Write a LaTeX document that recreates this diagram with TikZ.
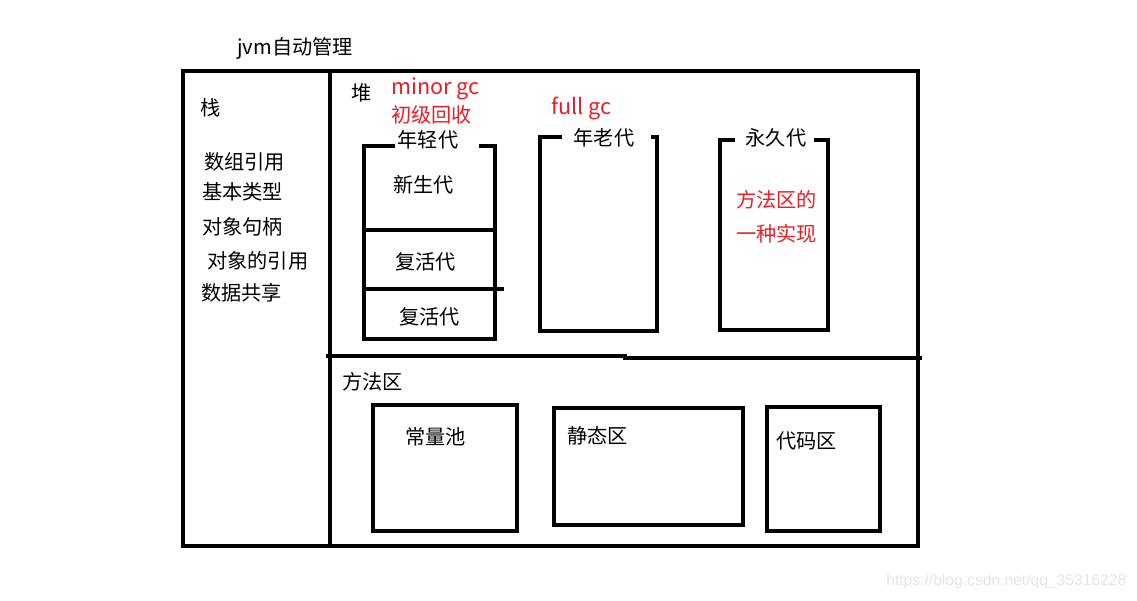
\documentclass[tikz,border=0pt]{standalone}
\usepackage{fontspec}
\usepackage{tikz}
\newfontfamily\cjk{Noto Sans CJK SC}
\newfontfamily\wmfont{Liberation Sans}
\definecolor{paintred}{RGB}{237,28,36}
\definecolor{wmgray}{RGB}{228,228,228}

\begin{document}
\begin{tikzpicture}[x=0.02cm, y=-0.02cm,
  wall/.style={line width=2.3pt, line cap=rect},
  lbl/.style={anchor=west, inner sep=0pt, font=\cjk\fontsize{11.5}{14}\selectfont},
  redlbl/.style={lbl, text=paintred},
  gclbl/.style={redlbl, font=\cjk\fontsize{12.3}{14}\selectfont},
  gen/.style={inner sep=0pt, font=\cjk\fontsize{11.5}{14}\selectfont}
]
\useasboundingbox (0,0) rectangle (1137,600);

\draw[wall] (183,71) rectangle (918,546);
\draw[wall] (330,71) -- (330,546);
\draw[wall] (328,356) -- (625,356);
\draw[wall] (625,358) -- (920,358);

\draw[wall] (393,146) -- (364,146) -- (364,339) -- (495,339) -- (495,146) -- (481,146);
\draw[wall] (364,230) -- (495,230);
\draw[wall] (364,289) -- (502,289);
\draw[wall] (560,137) -- (540,137) -- (540,331) -- (657,331) -- (657,137) -- (653,137);
\draw[wall] (733,140) -- (720,140) -- (720,330) -- (828,330) -- (828,140) -- (816,140);

\draw[wall] (373,405) rectangle (517,531);
\draw[wall] (554,408) rectangle (743,525);
\draw[wall] (767,407) rectangle (880,531);

\node[lbl] (title) at (237,48) {jvm自动管理};
\node[lbl] (stack) at (200,108) {栈};
\node[lbl] (arr) at (204,162) {数组引用};
\node[lbl] (prim) at (202,192) {基本类型};
\node[lbl] (hdl) at (202,227) {对象句柄};
\node[lbl] (ref) at (207,261) {对象的引用};
\node[lbl] (share) at (201,293) {数据共享};

\node[lbl] (heap) at (351,93) {堆};
\node[gclbl] (minor) at (391,89) {minor gc};
\node[redlbl] (initgc) at (391,115) {初级回收};
\node[gclbl] (full) at (551,108) {full gc};

\node[gen] (young) at (428,140) {年轻代};
\node[gen] (old) at (604,138) {年老代};
\node[gen] (perm) at (776,138) {永久代};

\node[lbl] (eden) at (393,185) {新生代};
\node[lbl] (surv1) at (395,262) {复活代};
\node[lbl] (surv2) at (399,317) {复活代};

\node[redlbl] (impl1) at (736,200) {方法区的};
\node[redlbl] (impl2) at (736,234) {一种实现};

\node[lbl] (method) at (342,382) {方法区};
\node[lbl] (const) at (405,437) {常量池};
\node[lbl] (static) at (567,436) {静态区};
\node[lbl] (code) at (776,441) {代码区};

\node[anchor=west, inner sep=0pt, text=wmgray, font=\wmfont\fontsize{8.9}{10}\selectfont] (mark) at (886,581) {https://blog.csdn.net/qq\_35316228};
\end{tikzpicture}
\end{document}
